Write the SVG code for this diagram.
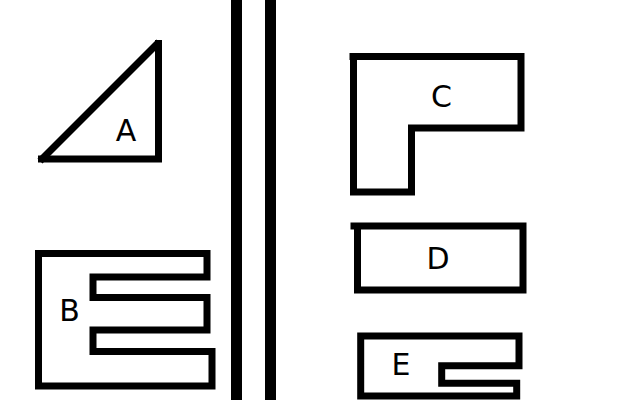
<svg xmlns="http://www.w3.org/2000/svg" width="640" height="400" viewBox="0 0 640 400">
<style>
.shape{fill:none;stroke:#000;stroke-width:7;stroke-linejoin:miter;stroke-linecap:square}
.butt{stroke-linecap:butt}
.lbl{font-family:"DejaVu Sans",sans-serif;font-size:30px;fill:#000;text-anchor:middle}
</style>
<rect width="640" height="400" fill="#fff"/>
<g id="wall">
<rect x="231" y="0" width="11" height="400" fill="#000"/>
<rect x="265" y="0" width="11" height="400" fill="#000"/>
</g>
<g id="A">
<path class="shape" d="M41.5 159 H158.5 V43.5"/>
<path class="shape butt" d="M159 42 L40 161"/>
<text class="lbl" x="126" y="141">A</text>
</g>
<g id="B">
<path class="shape" d="M38.5 253.5 H207 V277 H93 V297.5 H207 V330 H93 V351.5 H212 V386 H38.5 Z"/>
<text class="lbl" x="69.5" y="321">B</text>
</g>
<g id="C">
<path class="shape" d="M353 56.5 H521 V128 H411.5 V192 H353.5 V56.5"/>
<text class="lbl" x="441.5" y="106.5">C</text>
</g>
<g id="D">
<path class="shape" d="M354 226 H523 V290 H357.5 V226"/>
<text class="lbl" x="438" y="269">D</text>
</g>
<g id="E">
<path class="shape" d="M360.7 336 H519 V365.7 H441.7 V383.3 H516.7 V396 H360.7 Z"/>
<text class="lbl" x="401" y="375">E</text>
</g>
<g id="connectors"></g>
</svg>
